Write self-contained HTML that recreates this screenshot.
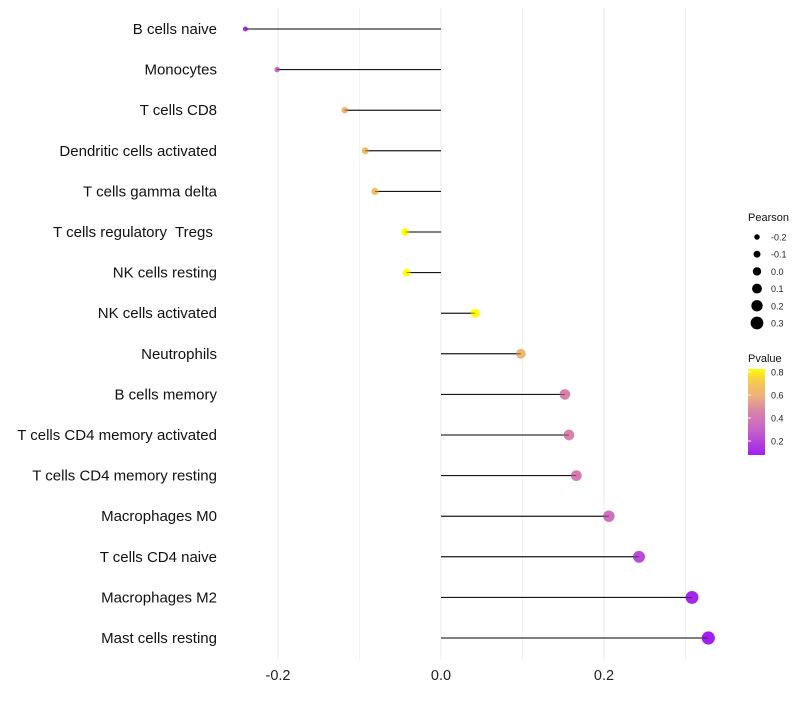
<!DOCTYPE html>
<html><head><meta charset="utf-8"><style>
body{margin:0;background:#fff;}
svg{font-family:"Liberation Sans",sans-serif;}
text{white-space:pre;}
</style></head><body>
<svg id="c" width="800" height="700"></svg>
<script>
const categories=["B cells naive","Monocytes","T cells CD8","Dendritic cells activated","T cells gamma delta","T cells regulatory  Tregs ","NK cells resting","NK cells activated","Neutrophils","B cells memory","T cells CD4 memory activated","T cells CD4 memory resting","Macrophages M0","T cells CD4 naive","Macrophages M2","Mast cells resting"];
const pearson=[-0.240,-0.201,-0.118,-0.093,-0.081,-0.044,-0.042,0.042,0.098,0.152,0.157,0.166,0.206,0.243,0.308,0.328];
const pvalue=[0.12,0.30,0.60,0.65,0.66,0.82,0.82,0.82,0.62,0.45,0.45,0.42,0.35,0.22,0.10,0.08];
const xTicks=[-0.2,0.0,0.2];
const xMinor=[-0.1,0.1,0.3];
const sizeLegend=[-0.2,-0.1,0.0,0.1,0.2,0.3];
const colorTicks=[0.2,0.4,0.6,0.8];

const NS="http://www.w3.org/2000/svg";
const svg=document.getElementById('c');
function el(t,a,p){const e=document.createElementNS(NS,t);for(const k in a)e.setAttribute(k,a[k]);(p||svg).appendChild(e);return e;}
const xs=v=>441+v*815;
const ys=i=>29+i*40.6;
const rs=v=>4.2+7.3*v;
const stops=[[0.08,[160,32,240]],[0.3,[200,100,200]],[0.45,[215,130,170]],[0.6,[240,180,120]],[0.72,[245,200,80]],[0.82,[255,255,0]]];
function col(p){if(p<=stops[0][0])return `rgb(${stops[0][1]})`;for(let i=1;i<stops.length;i++){if(p<=stops[i][0]){const t=(p-stops[i-1][0])/(stops[i][0]-stops[i-1][0]);const a=stops[i-1][1],b=stops[i][1];return `rgb(${a.map((x,j)=>Math.round(x+(b[j]-x)*t))})`;}}return `rgb(${stops[stops.length-1][1]})`;}

xMinor.forEach(v=>{const l=el('line',{x1:xs(v),x2:xs(v),y1:8,y2:660,stroke:'#f4f4f4','stroke-width':1});

});
xTicks.forEach(v=>{const l=el('line',{x1:xs(v),x2:xs(v),y1:8,y2:660,stroke:'#ebebeb','stroke-width':1});


const t=el('text',{x:xs(v),y:680,'text-anchor':'middle','font-size':14.5,fill:'#222'});t.textContent=v.toFixed(1);

});

categories.forEach((c,i)=>{const y=ys(i);
const t=el('text',{x:217,y:y+5,'text-anchor':'end','font-size':15,fill:'#111'});t.textContent=c;


const l=el('line',{x1:xs(0),x2:xs(pearson[i]),y1:y,y2:y,stroke:'#000','stroke-width':1});


const d=el('circle',{cx:xs(pearson[i]),cy:y,r:rs(pearson[i]),fill:col(pvalue[i])});


const l2=el('line',{x1:xs(0),x2:xs(pearson[i]),y1:y,y2:y,stroke:'#000','stroke-width':0.8,opacity:0.6});

});

let t=el('text',{x:748,y:221,'font-size':11,fill:'#111'});t.textContent='Pearson';


sizeLegend.forEach((v,i)=>{const y=237+i*17.2;
const d=el('circle',{cx:757,cy:y,r:rs(v),fill:'#000'});


const tt=el('text',{x:771,y:y+3.5,'font-size':9,fill:'#222'});tt.textContent=v.toFixed(1);

});

t=el('text',{x:748,y:362,'font-size':11,fill:'#111'});t.textContent='Pvalue';


const defs=el('defs',{});const g=el('linearGradient',{id:'pg',x1:0,y1:1,x2:0,y2:0},defs);
for(let k=0;k<=10;k++){const p=0.08+k*0.074;el('stop',{offset:k/10,'stop-color':col(p)},g);}
const cb=el('rect',{x:748,y:369,width:17,height:86,fill:'url(#pg)'});


const cy=p=>441-(p-0.2)*115;
colorTicks.forEach(p=>{
const tk=el('line',{x1:748,x2:751,y1:cy(p),y2:cy(p),stroke:'#fff'});


const tt=el('text',{x:771,y:cy(p)+3.5,'font-size':9,fill:'#222'});tt.textContent=p.toFixed(1);

});
</script>
</body></html>
